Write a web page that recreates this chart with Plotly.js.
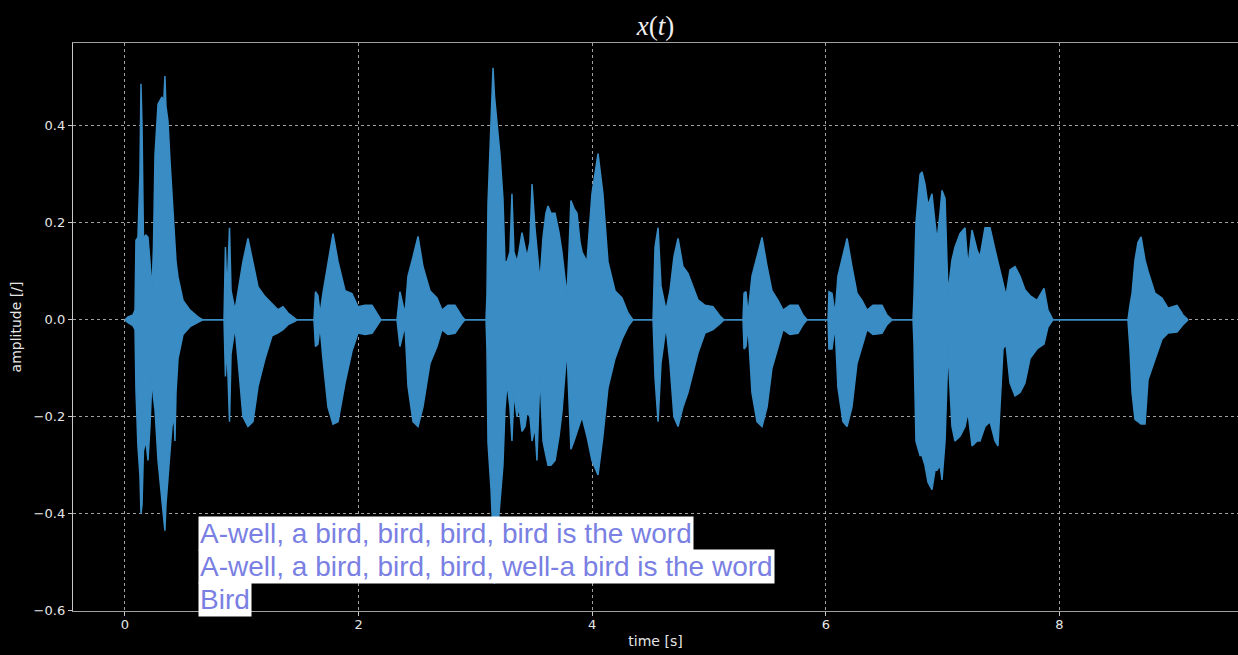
<!DOCTYPE html>
<html>
<head>
<meta charset="utf-8">
<script src="https://cdn.plot.ly/plotly-3.0.1.min.js"></script>
<style>
  html, body { margin: 0; padding: 0; background: #000; overflow: hidden; }
  #chart { width: 1238px; height: 655px; }
</style>
</head>
<body>
<div id="chart"></div>
<script>
// Envelope of the waveform x(t) (time in s, amplitude in [/])
const time = [
  0.000,0.026,0.068,0.086,0.094,0.111,0.128,0.137,0.146,0.158,0.180,0.197,0.214,0.231,0.244,0.257,0.283,0.317,0.330,0.342,0.351,0.368,0.385,0.402,0.420,0.428,0.437,0.454,0.497,0.557,0.625,0.668,
  0.848,0.860,0.873,0.895,0.908,0.942,0.967,1.010,1.053,1.096,1.139,1.199,1.259,1.310,1.353,1.396,1.455,1.473,
  1.618,1.631,1.652,1.670,1.695,1.738,1.781,1.824,1.884,1.943,1.995,2.055,2.115,2.166,2.192,
  2.329,2.354,2.397,2.423,2.466,2.509,2.551,2.611,2.671,2.714,2.765,2.825,2.885,2.911,
  3.091,3.099,3.108,3.134,3.151,3.164,3.185,3.211,3.236,3.253,3.271,3.296,3.313,3.330,3.356,3.373,3.399,3.425,3.442,3.467,3.485,3.510,3.527,3.553,3.579,3.604,3.622,3.647,3.682,3.716,3.741,3.784,3.801,3.818,3.844,3.870,3.896,3.913,3.955,3.998,4.050,4.092,4.135,4.195,4.255,4.307,4.349,
  4.521,4.538,4.564,4.589,4.632,4.666,4.700,4.735,4.777,4.820,4.906,4.966,5.034,5.094,5.128,
  5.291,5.300,5.317,5.334,5.368,5.411,5.454,5.497,5.539,5.591,5.634,5.693,5.762,5.805,5.839,
  6.019,6.027,6.053,6.079,6.104,6.147,6.182,6.224,6.267,6.310,6.353,6.404,6.481,6.524,6.567,
  6.747,6.755,6.772,6.807,6.824,6.849,6.875,6.909,6.935,6.952,6.978,6.995,7.021,7.046,7.080,7.106,7.149,7.192,7.217,7.252,7.295,7.320,7.363,7.406,7.449,7.474,7.517,7.543,7.577,7.620,7.663,7.705,7.748,7.808,7.868,7.902,7.945,
  8.587,8.604,8.622,8.647,8.673,8.699,8.733,8.759,8.818,8.878,8.930,9.007,9.058,9.101
];
const upper = [
  0,0.006,0.010,0.020,0.164,0.170,0.300,0.487,0.400,0.170,0.175,0.170,0.120,0.060,0.150,0.340,0.445,0.460,0.440,0.503,0.440,0.410,0.330,0.267,0.200,0.150,0.120,0.088,0.040,0.020,0.006,0,
  0,0.150,0.050,0.190,0.060,0.020,0.055,0.120,0.168,0.117,0.068,0.048,0.034,0.021,0.027,0.014,0.003,0,
  0,0.058,0.050,0.012,0.055,0.120,0.178,0.120,0.060,0.054,0.027,0.030,0.030,0.010,0,
  0,0.058,0.012,0.090,0.130,0.172,0.110,0.060,0.045,0.020,0.030,0.030,0.007,0,
  0,0.05,0.24,0.43,0.52,0.46,0.40,0.34,0.25,0.12,0.12,0.14,0.26,0.14,0.12,0.14,0.18,0.15,0.13,0.16,0.28,0.19,0.14,0.08,0.17,0.22,0.235,0.22,0.22,0.18,0.14,0.05,0.14,0.246,0.23,0.22,0.16,0.14,0.12,0.26,0.343,0.26,0.12,0.06,0.045,0.014,0,
  0,0.150,0.190,0.070,0.020,0.060,0.130,0.168,0.110,0.096,0.041,0.030,0.027,0.008,0,
  0,0.055,0.058,0.012,0.090,0.130,0.170,0.110,0.060,0.040,0.020,0.030,0.030,0.010,0,
  0,0.058,0.055,0.012,0.090,0.130,0.168,0.110,0.055,0.040,0.020,0.030,0.030,0.010,0,
  0,0.05,0.2,0.3,0.305,0.28,0.236,0.26,0.2,0.164,0.22,0.267,0.25,0.055,0.123,0.15,0.178,0.19,0.11,0.185,0.144,0.13,0.19,0.19,0.144,0.12,0.075,0.05,0.103,0.11,0.09,0.062,0.05,0.04,0.065,0.02,0,
  0,0.030,0.055,0.123,0.160,0.171,0.123,0.100,0.055,0.045,0.024,0.030,0.010,0
];
const lower = [
  0,-0.006,-0.012,-0.020,-0.144,-0.260,-0.320,-0.400,-0.380,-0.270,-0.250,-0.290,-0.220,-0.120,-0.160,-0.185,-0.290,-0.376,-0.400,-0.435,-0.380,-0.330,-0.270,-0.220,-0.200,-0.250,-0.150,-0.080,-0.030,-0.014,-0.005,0,
  0,-0.117,-0.050,-0.210,-0.070,-0.015,-0.080,-0.200,-0.220,-0.210,-0.137,-0.080,-0.033,-0.027,-0.020,-0.010,-0.003,0,
  0,-0.055,-0.050,-0.012,-0.080,-0.180,-0.215,-0.210,-0.130,-0.065,-0.027,-0.030,-0.028,-0.010,0,
  0,-0.055,-0.012,-0.137,-0.210,-0.220,-0.180,-0.090,-0.055,-0.020,-0.030,-0.028,-0.007,0,
  0,-0.06,-0.253,-0.35,-0.45,-0.544,-0.45,-0.37,-0.30,-0.185,-0.13,-0.18,-0.25,-0.15,-0.20,-0.18,-0.23,-0.22,-0.19,-0.20,-0.25,-0.22,-0.29,-0.11,-0.25,-0.28,-0.30,-0.30,-0.29,-0.24,-0.19,-0.06,-0.15,-0.267,-0.25,-0.23,-0.21,-0.20,-0.24,-0.29,-0.32,-0.24,-0.14,-0.08,-0.04,-0.014,0,
  0,-0.120,-0.210,-0.090,-0.014,-0.090,-0.200,-0.220,-0.180,-0.150,-0.068,-0.027,-0.020,-0.008,0,
  0,-0.060,-0.055,-0.012,-0.150,-0.210,-0.220,-0.180,-0.100,-0.055,-0.020,-0.030,-0.028,-0.010,0,
  0,-0.060,-0.060,-0.012,-0.140,-0.210,-0.220,-0.180,-0.090,-0.055,-0.020,-0.030,-0.028,-0.010,0,
  0,-0.05,-0.25,-0.28,-0.28,-0.30,-0.335,-0.35,-0.31,-0.31,-0.30,-0.33,-0.25,-0.06,-0.22,-0.25,-0.24,-0.22,-0.19,-0.26,-0.25,-0.25,-0.22,-0.21,-0.25,-0.26,-0.06,-0.05,-0.13,-0.157,-0.15,-0.13,-0.08,-0.06,-0.05,-0.015,0,
  0,-0.060,-0.150,-0.205,-0.210,-0.215,-0.215,-0.123,-0.082,-0.040,-0.027,-0.025,-0.010,0
];

const xTicks = [0, 2, 4, 6, 8];
const yTicks = [0.4, 0.2, 0.0, -0.2, -0.4, -0.6];
const yTickText = ['0.4', '0.2', '0.0', '\u22120.2', '\u22120.4', '\u22120.6'];
const captionLines = [
  'A-well, a bird, bird, bird, bird is the word',
  'A-well, a bird, bird, bird, well-a bird is the word',
  'Bird'
];

const waveColor = '#3a8cc4';
const tickFont = { family: 'DejaVu Sans, sans-serif', size: 13, color: '#e6e6e6' };
const labelFont = { family: 'DejaVu Sans, sans-serif', size: 14, color: '#e6e6e6' };

const traces = [
  { x: time, y: lower, type: 'scatter', mode: 'lines',
    line: { color: waveColor, width: 1.5 }, hoverinfo: 'skip', showlegend: false },
  { x: time, y: upper, type: 'scatter', mode: 'lines', fill: 'tonexty',
    fillcolor: waveColor, line: { color: waveColor, width: 1.5 }, hoverinfo: 'skip', showlegend: false }
];

const capY = [0.1364, 0.0783, 0.0194];
const annotations = captionLines.map((t, i) => ({
  text: t, xref: 'paper', yref: 'paper', x: 0.1077, y: capY[i],
  xanchor: 'left', yanchor: 'middle', showarrow: false,
  bgcolor: '#ffffff', borderpad: 1,
  font: { family: 'Liberation Sans, Arial, sans-serif', size: 28, color: '#7a7fe3' }
}));

const layout = {
  width: 1238, height: 655,
  margin: { l: 73, r: 0, t: 43, b: 44 },
  paper_bgcolor: '#000000', plot_bgcolor: '#000000',
  title: { text: '<i>x</i>(<i>t</i>)', x: 0.5, xref: 'paper', y: 0.961, yref: 'container',
           yanchor: 'middle', font: { family: 'Liberation Serif, DejaVu Serif, serif', size: 27, color: '#f0f0f0' } },
  xaxis: {
    range: [-0.445, 9.529], tickvals: xTicks, ticktext: xTicks.map(String),
    showgrid: true, gridcolor: '#c8c8c8', griddash: 'dot', gridwidth: 0.8,
    zeroline: false, showline: true, linecolor: '#a0a0a0', linewidth: 1.2, mirror: true,
    ticks: 'outside', ticklen: 4, tickcolor: '#c8c8c8', tickfont: tickFont, ticklabelstandoff: -3,
    title: { text: 'time [s]', font: labelFont, standoff: 5 }
  },
  yaxis: {
    range: [-0.6005, 0.571], tickvals: yTicks, ticktext: yTickText,
    showgrid: true, gridcolor: '#c8c8c8', griddash: 'dot', gridwidth: 0.8,
    zeroline: false, showline: true, linecolor: '#c8c8c8', linewidth: 1.2,
    ticks: 'outside', ticklen: 4, tickcolor: '#c8c8c8', tickfont: tickFont,
    title: { text: 'amplitude [/]', font: labelFont, standoff: 8 }
  },
  annotations: annotations,
  showlegend: false
};

Plotly.newPlot('chart', traces, layout, { displayModeBar: false, staticPlot: true });
</script>
</body>
</html>
